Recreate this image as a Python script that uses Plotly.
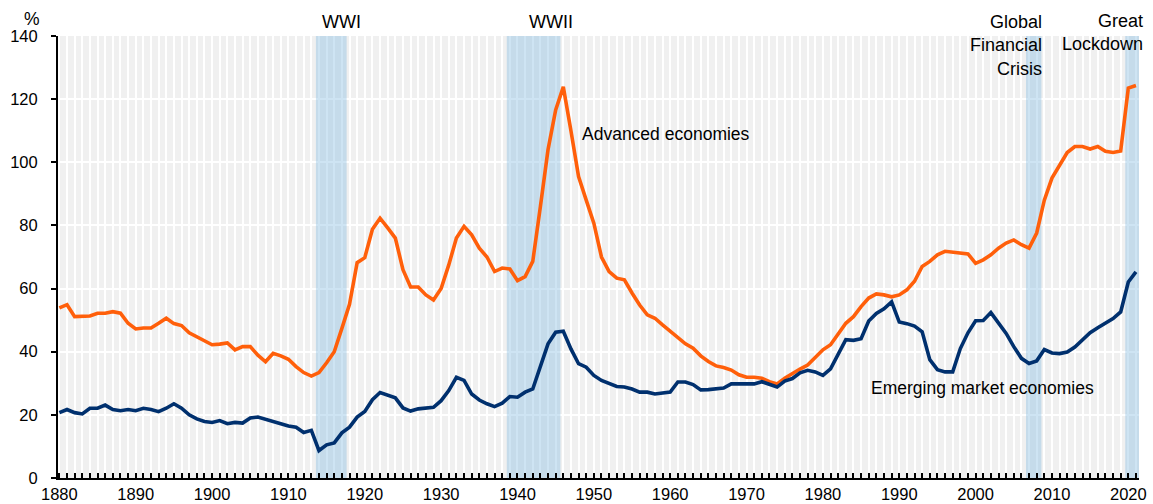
import plotly.graph_objects as go

years = list(range(1880, 2022))

advanced = [
    53.9, 54.9, 51.1, 51.1, 51.3, 52.2, 52.2, 52.7, 52.2, 49.0,   # 1880-1889
    47.2, 47.5, 47.5, 49.0, 50.6, 48.9, 48.3, 46.0, 44.7, 43.5,   # 1890-1899
    42.2, 42.4, 42.8, 40.6, 41.6, 41.6, 38.9, 36.8, 39.5, 38.7,   # 1900-1909
    37.6, 35.3, 33.4, 32.3, 33.4, 36.5, 40.0, 47.4, 55.0, 68.2,   # 1910-1919
    69.8, 78.8, 82.3, 79.2, 76.0, 66.0, 60.5, 60.5, 58.0, 56.4,   # 1920-1929
    60.0, 67.5, 76.0, 79.7, 77.0, 72.8, 70.0, 65.4, 66.5, 66.2,   # 1930-1939
    62.5, 63.8, 68.6, 86.0, 104.0, 116.6, 123.9, 110.0, 95.5, 88.0,  # 1940-1949
    80.7, 70.0, 65.4, 63.3, 62.8, 58.6, 54.8, 51.7, 50.6, 48.5,   # 1950-1959
    46.4, 44.6, 42.5, 41.1, 38.7, 36.9, 35.5, 35.0, 34.2, 32.7,   # 1960-1969
    31.9, 31.9, 31.6, 30.5, 29.8, 31.6, 33.2, 34.5, 35.8, 38.2,   # 1970-1979
    40.6, 42.2, 45.8, 49.0, 51.1, 54.3, 57.0, 58.3, 58.0, 57.4,   # 1980-1989
    58.0, 59.6, 62.3, 67.0, 68.6, 70.7, 71.8, 71.6, 71.2, 71.0,   # 1990-1999
    68.0, 69.1, 70.7, 72.8, 74.4, 75.4, 73.9, 72.8, 77.6, 88.0,   # 2000-2009
    95.0, 99.2, 103.1, 105.0, 105.0, 104.2, 105.0, 103.5, 103.1, 103.6,  # 2010-2019
    123.5, 124.3,                                                 # 2020-2021
]

emerging = [
    20.7, 21.7, 20.7, 20.3, 22.1, 22.1, 23.1, 21.7, 21.3, 21.7,   # 1880-1889
    21.3, 22.1, 21.7, 21.0, 22.1, 23.5, 22.1, 20.0, 18.7, 17.9,   # 1890-1899
    17.6, 18.2, 17.2, 17.6, 17.4, 19.0, 19.3, 18.5, 17.9, 17.2,   # 1900-1909
    16.5, 16.1, 14.4, 15.1, 8.7, 10.5, 11.1, 14.3, 16.1, 19.3,    # 1910-1919
    21.1, 24.8, 27.1, 26.2, 25.4, 22.2, 21.2, 21.9, 22.2, 22.4,   # 1920-1929
    24.5, 27.7, 31.9, 30.9, 26.6, 24.7, 23.5, 22.6, 23.7, 25.8,   # 1930-1939
    25.6, 27.2, 28.2, 35.1, 42.5, 46.2, 46.5, 40.9, 36.2, 35.1,   # 1940-1949
    32.5, 30.9, 29.8, 29.0, 28.8, 28.2, 27.2, 27.2, 26.6, 26.8,   # 1950-1959
    27.2, 30.4, 30.4, 29.6, 27.9, 28.0, 28.2, 28.5, 29.8, 29.8,   # 1960-1969
    29.8, 29.8, 30.5, 29.6, 28.8, 30.7, 31.5, 33.3, 34.1, 33.6,   # 1970-1979
    32.5, 34.6, 39.4, 43.8, 43.6, 44.1, 49.7, 52.1, 53.6, 55.8,   # 1980-1989
    49.4, 48.9, 48.1, 46.3, 37.5, 34.3, 33.6, 33.6, 41.0, 46.0,   # 1990-1999
    49.8, 49.9, 52.4, 49.2, 45.8, 41.6, 37.9, 36.3, 37.1, 40.7,   # 2000-2009
    39.6, 39.4, 39.9, 41.5, 43.6, 46.0, 47.6, 48.9, 50.5, 52.6,   # 2010-2019
    62.1, 65.3,                                                   # 2020-2021
]

event_names = ["WWI", "WWII", "Global<br>Financial<br>Crisis", "Great<br>Lockdown"]
event_start = [1914, 1939, 2007, 2020]
event_end = [1917, 1945, 2008, 2021]
# label positions in paper fractions
event_label_x = [0.2623, 0.4556, 0.9121, 1.0056]
event_label_y = [1.0317, 1.0317, 0.9785, 1.0068]
event_anchor = ["center", "center", "right", "right"]

series_names = ["Advanced economies", "Emerging market economies"]
series_colors = ["#FF5F0A", "#00306E"]
series_label_x = [0.4829, 0.7505]
series_label_y = [0.7783, 0.2043]

y_ticks = [0, 20, 40, 60, 80, 100, 120, 140]
x_ticks = list(range(1880, 2021, 10))

FONT = "Liberation Sans, Arial, sans-serif"
ANN_SIZE = 17.5
TICK_SIZE = 16.5

fig = go.Figure()

for name, vals, col in zip(series_names, [advanced, emerging], series_colors):
    fig.add_trace(go.Scatter(x=years, y=vals, mode="lines", name=name,
                             line=dict(color=col, width=3.6), showlegend=False,
                             cliponaxis=False))

for s, e in zip(event_start, event_end):
    fig.add_shape(type="rect", xref="x", yref="y", x0=s - 0.4, x1=e + 0.62,
                  y0=0, y1=140, fillcolor="rgba(125,185,224,0.38)",
                  line=dict(width=0), layer="between")

for name, x, y, anc in zip(event_names, event_label_x, event_label_y, event_anchor):
    fig.add_annotation(x=x, y=y, xref="paper", yref="paper", text=name, showarrow=False,
                       xanchor=anc, yanchor="middle", align=anc,
                       font=dict(family=FONT, size=ANN_SIZE + 0.5, color="#000000"))

for name, x, y in zip(series_names, series_label_x, series_label_y):
    fig.add_annotation(x=x, y=y, xref="paper", yref="paper", text=name, showarrow=False,
                       xanchor="left", yanchor="middle",
                       font=dict(family=FONT, size=ANN_SIZE, color="#000000"))

fig.add_annotation(x=-0.024, y=1.039, xref="paper", yref="paper", text="%",
                   showarrow=False, xanchor="center", yanchor="middle",
                   font=dict(family=FONT, size=ANN_SIZE, color="#000000"))

fig.update_layout(
    width=1153, height=504,
    margin=dict(l=58, r=14, t=36, b=26, autoexpand=False),
    paper_bgcolor="white", plot_bgcolor="#F0F0F0",
    font=dict(family=FONT, size=TICK_SIZE, color="#000000"),
)

fig.update_xaxes(
    range=[1879.82, 2021.4], tickmode="array", tickvals=x_ticks,
    ticktext=[str(t) for t in x_ticks], automargin=False,
    showline=True, linecolor="black", linewidth=2,
    ticks="inside", ticklen=5, tickwidth=1.5, tickcolor="black",
    showgrid=True, gridcolor="white", gridwidth=1.5,
    minor=dict(dtick=1, tick0=1880, ticks="inside", ticklen=5, tickwidth=1.5,
               tickcolor="black", showgrid=True, gridcolor="white", gridwidth=1.5),
    zeroline=False, tickfont=dict(size=TICK_SIZE), ticklabelstandoff=0,
)
fig.update_yaxes(
    range=[0, 140], tickmode="array", tickvals=y_ticks, automargin=False,
    showline=True, linecolor="black", linewidth=2,
    ticks="outside", ticklen=5, tickwidth=1.5, tickcolor="black",
    showgrid=True, gridcolor="white", gridwidth=1.5,
    zeroline=False, tickfont=dict(size=TICK_SIZE), ticklabelstandoff=10,
)

fig.write_html(
    "out.html",
    config={"displayModeBar": False},
    post_script="document.body.style.margin='0px';document.body.style.padding='0px';document.body.style.overflow='hidden';",
)
